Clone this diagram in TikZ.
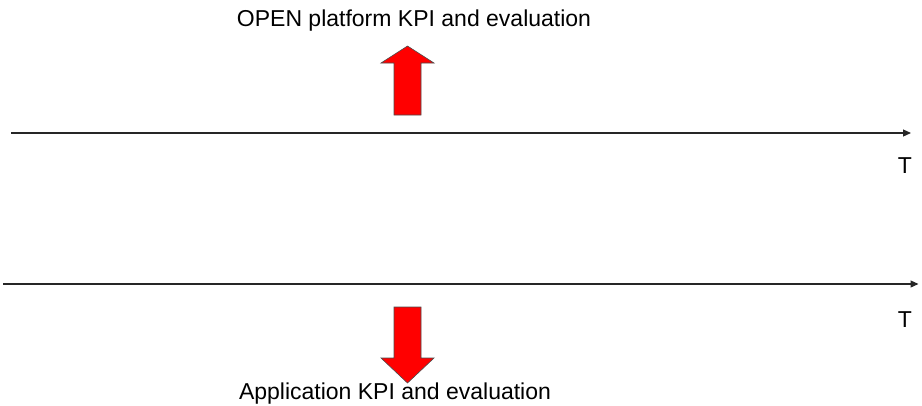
\documentclass[tikz,border=0pt]{standalone}
\usepackage{fontspec}
\setmainfont{Liberation Sans}
\usetikzlibrary{arrows.meta}
\begin{document}
\begin{tikzpicture}[x=1pt,y=-1pt,
  lbl/.style={inner sep=0pt,anchor=base,font=\fontsize{23}{27}\selectfont},
  axis/.style={line width=1.2pt,draw=black!85,-{Triangle[length=8pt,width=7pt]}},
  bigarrow/.style={fill=red,draw=black!70,line width=0.6pt,line join=miter}]
\useasboundingbox (0,0) rectangle (922,405);
% labels
\node[lbl] (top) at (414,26.5) {OPEN platform KPI and evaluation};
\node[lbl] (bot) at (395,399) {Application KPI and evaluation};
\node[lbl] (t1) at (905,173.5) {T};
\node[lbl] (t2) at (905,327) {T};
% axes
\coordinate (a1s) at (11,133);
\coordinate (a1e) at (911,133);
\coordinate (a2s) at (3,284);
\coordinate (a2e) at (918.5,284);
\draw[axis] (a1s) -- (a1e);
\draw[axis] (a2s) -- (a2e);
% up arrow
\draw[bigarrow] (394,115) -- (394,63) -- (381,63) -- (407.5,46) -- (434,63) -- (421,63) -- (421,115) -- cycle;
% down arrow
\draw[bigarrow] (394,307) -- (394,358) -- (381,358) -- (407.5,383) -- (434,358) -- (421,358) -- (421,307) -- cycle;
\end{tikzpicture}
\end{document}
